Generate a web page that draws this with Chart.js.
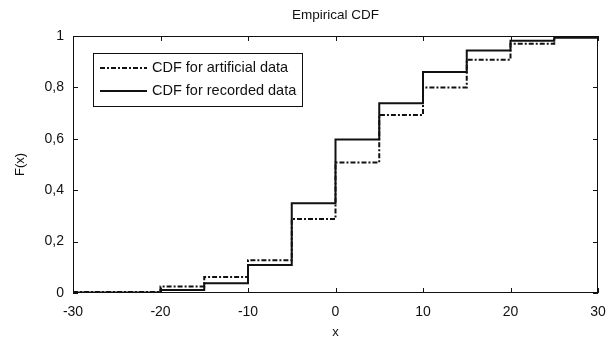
<!DOCTYPE html>
<html>
<head>
<meta charset="utf-8">
<script src="https://cdn.jsdelivr.net/npm/chart.js@4/dist/chart.umd.min.js"></script>
<style>
  html, body { margin: 0; padding: 0; background: #fff; }
  #wrap { width: 607px; height: 340px; }
</style>
</head>
<body>
<div id="wrap"><canvas id="c" width="607" height="340"></canvas></div>
<script>
// ---- data ----
const xSteps = [-30, -20, -15, -10, -5, 0, 5, 10, 15, 20, 25, 30];
const artificialCdf = [0.004, 0.025, 0.062, 0.127, 0.288, 0.508, 0.693, 0.800, 0.908, 0.970, 1.000, 1.000];
const recordedCdf   = [0.002, 0.012, 0.038, 0.109, 0.349, 0.597, 0.738, 0.860, 0.944, 0.982, 0.993, 0.993];
const xTickValues = [-30, -20, -10, 0, 10, 20, 30];
const yTickValues = [0, 0.2, 0.4, 0.6, 0.8, 1];
const seriesLabels = ['CDF for artificial data', 'CDF for recorded data'];
const chartTitle = 'Empirical CDF';
const xTitle = 'x';
const yTitle = 'F(x)';

const toPoints = (ys) => xSteps.map((x, i) => ({ x: x, y: ys[i] }));
const INK = '#111';
const FONT = '"Liberation Sans", Arial, sans-serif';

const boxAndTicks = {
  id: 'boxAndTicks',
  afterDatasetsDraw(chart) {
    const { ctx, chartArea: a, scales } = chart;
    ctx.save();
    ctx.strokeStyle = INK;
    ctx.lineWidth = 1;
    ctx.strokeRect(a.left + 0.5, a.top + 0.5, a.right - a.left - 1, a.bottom - a.top - 1);
    const L = 5;
    ctx.beginPath();
    xTickValues.forEach(v => {
      const px = Math.round(scales.x.getPixelForValue(v)) + 0.5;
      ctx.moveTo(px, a.bottom); ctx.lineTo(px, a.bottom - L);
      ctx.moveTo(px, a.top); ctx.lineTo(px, a.top + L);
    });
    yTickValues.forEach(v => {
      const py = Math.round(scales.y.getPixelForValue(v)) + 0.5;
      ctx.moveTo(a.left, py); ctx.lineTo(a.left + L, py);
      ctx.moveTo(a.right, py); ctx.lineTo(a.right - L, py);
    });
    ctx.stroke();

    // title, centred over the plot area
    ctx.fillStyle = INK;
    ctx.font = '13.5px ' + FONT;
    ctx.textAlign = 'center';
    ctx.textBaseline = 'middle';
    ctx.fillText(chartTitle, (a.left + a.right) / 2, a.top - 21);

    // legend box
    const bx = a.left + 20, by = a.top + 17, bw = 209, bh = 53;
    ctx.fillStyle = '#fff';
    ctx.fillRect(bx, by, bw, bh);
    ctx.strokeRect(bx + 0.5, by + 0.5, bw, bh);
    ctx.font = '14.5px ' + FONT;
    ctx.textBaseline = 'middle';
    ctx.textAlign = 'left';
    chart.data.datasets.forEach((ds, i) => {
      const y = by + 15 + i * 23;
      ctx.beginPath();
      ctx.setLineDash(ds.borderDash || []);
      ctx.lineWidth = ds.borderWidth;
      ctx.strokeStyle = ds.borderColor;
      ctx.moveTo(bx + 7, y); ctx.lineTo(bx + 54, y);
      ctx.stroke();
      ctx.setLineDash([]);
      ctx.fillStyle = INK;
      ctx.fillText(ds.label, bx + 59, y);
    });
    ctx.restore();
  }
};

new Chart(document.getElementById('c'), {
  type: 'line',
  data: {
    datasets: [
      {
        label: seriesLabels[0],
        data: toPoints(artificialCdf),
        stepped: true,
        borderColor: INK,
        borderWidth: 2,
        borderDash: [5, 2, 2, 2],
        pointRadius: 0,
        fill: false
      },
      {
        label: seriesLabels[1],
        data: toPoints(recordedCdf),
        stepped: true,
        borderColor: INK,
        borderWidth: 2,
        pointRadius: 0,
        fill: false
      }
    ]
  },
  options: {
    responsive: false,
    animation: false,
    layout: { padding: { left: 0, right: 0, top: 36, bottom: 0 } },
    plugins: {
      legend: { display: false },
      tooltip: { enabled: false },
      title: { display: false }
    },
    scales: {
      x: {
        type: 'linear',
        min: -30, max: 30,
        afterBuildTicks: (s) => { s.ticks = xTickValues.map(v => ({ value: v })); },
        afterFit: (s) => { s.height = 47; s.paddingRight = 9; s.paddingLeft = 0; },
        grid: { display: false, drawTicks: false },
        border: { display: false },
        ticks: { color: INK, font: { family: FONT, size: 14 }, padding: 11, maxRotation: 0 },
        title: { display: true, text: xTitle, color: INK, font: { family: FONT, size: 13 }, padding: { top: 4, bottom: 0 } }
      },
      y: {
        type: 'linear',
        min: 0, max: 1,
        afterBuildTicks: (s) => { s.ticks = yTickValues.map(v => ({ value: v })); },
        afterFit: (s) => { s.width = 73; s.paddingTop = 0; s.paddingBottom = 0; },
        grid: { display: false, drawTicks: false },
        border: { display: false },
        ticks: {
          color: INK, font: { family: FONT, size: 14 }, padding: 9,
          callback: (v) => String(Number(v.toFixed(1))).replace('.', ',')
        },
        title: { display: true, text: yTitle, color: INK, font: { family: FONT, size: 13 }, padding: { top: 13, bottom: 0 } }
      }
    }
  },
  plugins: [boxAndTicks]
});
</script>
</body>
</html>
